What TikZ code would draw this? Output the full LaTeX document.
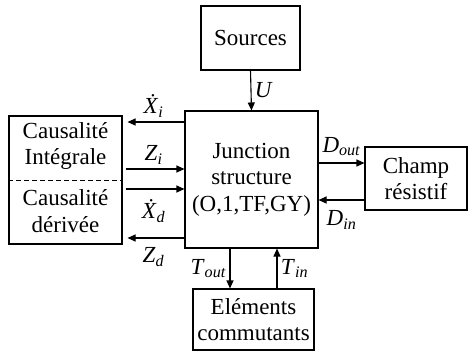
\documentclass[tikz,border=0pt]{standalone}
\usepackage{fontspec}
\setmainfont{Liberation Serif}
\usetikzlibrary{arrows.meta}

\newcommand{\dotsig}[1]{\textit{\.X}\textsubscript{\textit{#1}}}
\newcommand{\sig}[2]{\textit{#1}\textsubscript{\textit{#2}}}

\begin{document}
\begin{tikzpicture}[x=1pt,y=-1pt,>={Triangle[length=8pt,width=7pt]},
    font=\fontsize{23}{26.5}\selectfont,
    blk/.style={draw,line width=1.1pt,align=center,inner sep=0pt},
    flow/.style={->,line width=1.1pt}]
  \useasboundingbox (0,0) rectangle (468,351);

  % blocks
  \node[blk,minimum width=99pt,minimum height=64pt]   (src)   at (250.5,38)  {Sources};
  \node[blk,minimum width=133pt,minimum height=137pt] (junc)  at (251.5,179.5) {Junction\\structure\\(O,1,TF,GY)};
  \node[blk,minimum width=113pt,minimum height=128pt] (caus)  at (65.5,180)  {};
  \node[align=center] (cint) at (65.5,146) {Causalité\\Intégrale};
  \node[align=center] (cder) at (65.5,211) {Causalité\\dérivée};
  \draw[dashed,dash pattern=on 5pt off 3pt,line width=1pt] (caus.west) -- (caus.east);
  \node[blk,minimum width=102pt,minimum height=63pt]  (champ) at (416,178.5) {Champ\\résistif};
  \node[blk,minimum width=121pt,minimum height=61pt]  (elem)  at (253.5,319.5) {Eléments\\commutants};

  % sources
  \draw[flow] (src.south) -- (junc.north) node[midway,right] {\textit{U}};

  % causalite
  \draw[flow,shorten >=5pt] (junc.west |- 0,122) -- (caus.east |- 0,122)
    node[midway,above=1pt] {\dotsig{i}};
  \draw[flow,shorten <=3pt] (caus.east |- 0,169) -- (junc.west |- 0,169)
    node[midway,above=1pt] {\sig{Z}{i}};
  \draw[flow,shorten <=3pt] (caus.east |- 0,189) -- (junc.west |- 0,189)
    node[midway,below=7pt] {\dotsig{d}};
  \draw[flow,shorten >=5pt] (junc.west |- 0,238) -- (caus.east |- 0,238)
    node[midway,below=6pt] {\sig{Z}{d}};

  % champ resistif
  \draw[flow] (junc.east |- 0,163) -- (champ.west |- 0,163)
    node[midway,above=3pt] {\sig{D}{out}};
  \draw[flow] (champ.west |- 0,200) -- (junc.east |- 0,200)
    node[midway,below=7pt] {\sig{D}{in}};

  % elements commutants
  \draw[flow] (junc.south -| 230,0) -- (elem.north -| 230,0)
    node[midway,left] {\sig{T}{out}};
  \draw[flow] (elem.north -| 277,0) -- (junc.south -| 277,0)
    node[midway,right] {\sig{T}{in}};
\end{tikzpicture}
\end{document}
